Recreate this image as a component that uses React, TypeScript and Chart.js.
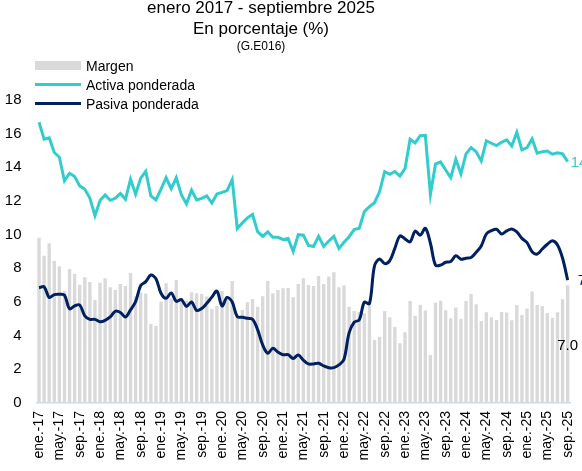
import React, { useEffect, useRef } from 'react';
import { Chart, registerables } from 'chart.js';

Chart.register(...registerables);

const FONT = '"Liberation Sans", Arial, sans-serif';

const TITLE_LINES = ['enero 2017 - septiembre 2025', 'En porcentaje (%)', '(G.E016)'];
const SERIES_NAMES = ['Margen', 'Activa ponderada', 'Pasiva ponderada'];

const MONTHS = ['ene.', 'feb.', 'mar.', 'abr.', 'may.', 'jun.', 'jul.', 'ago.', 'sep.', 'oct.', 'nov.', 'dic.'];
const YEARS = ['17', '18', '19', '20', '21', '22', '23', '24', '25'];
const LAST_YEAR_MONTHS = 9;

const CATEGORIES: string[] = [];
YEARS.forEach((y, yi) =>
  MONTHS.forEach((m, mi) => {
    if (yi < YEARS.length - 1 || mi < LAST_YEAR_MONTHS) CATEGORIES.push(`${m}-${y}`);
  })
);

const TICK_EVERY = 4;
const Y_MIN = 0;
const Y_MAX = 18;
const Y_STEP = 2;

const MARGEN = [
  9.82, 8.75, 9.49, 8.44, 8.12, 6.65, 7.96, 7.66, 7.03, 7.47,
  7.19, 6.12, 7.15, 7.41, 6.87, 6.71, 7.07, 6.95, 7.72, 6.32,
  6.56, 6.5, 4.69, 4.58, 6.02, 7.12, 6.2, 7.31, 6.24, 6.08,
  6.58, 6.52, 6.48, 6.32, 5.59, 5.76, 6.65, 6.22, 7.25, 5.24,
  5.53, 5.98, 6.18, 5.72, 6.34, 7.25, 6.52, 6.71, 6.81, 6.83,
  6.28, 7.07, 7.41, 7.01, 6.95, 7.55, 7.07, 7.51, 7.76, 6.87,
  6.99, 5.72, 5.46, 5.42, 5.33, 5.76, 3.74, 3.94, 5.46, 5.09,
  4.52, 3.55, 4.2, 6.06, 5.19, 5.84, 5.5, 2.85, 5.95, 6.08,
  5.51, 5.03, 5.68, 4.99, 6.06, 6.48, 5.86, 4.87, 5.39, 5.09,
  4.93, 5.41, 5.37, 4.91, 5.82, 5.23, 5.61, 6.63, 5.82, 5.76,
  5.33, 5.05, 5.39, 6.16, 7.0,
];

const ACTIVA = [
  16.68, 15.67, 15.75, 14.88, 14.6, 13.2, 13.65, 13.45, 12.9, 12.7,
  12.18, 11.13, 12.03, 12.36, 12.04, 12.16, 12.45, 12.1, 13.29, 12.4,
  13.36, 13.76, 12.3, 12.06, 12.7, 13.39, 12.73, 13.38, 12.38, 11.83,
  12.64, 12.06, 12.16, 12.3, 11.88, 12.42, 12.51, 12.62, 13.27, 10.37,
  10.7, 11.0, 11.2, 10.18, 9.9, 10.17, 9.84, 9.84, 9.72, 9.78,
  9.0, 10.0, 9.97, 9.36, 9.3, 9.9, 9.3, 9.62, 9.9, 9.18,
  9.55, 9.88, 10.3, 10.38, 11.37, 11.66, 11.9, 12.56, 13.74, 13.58,
  13.75, 13.49, 13.92, 15.67, 15.45, 15.88, 15.9, 12.4, 14.19, 14.32,
  13.84, 13.39, 14.48, 13.61, 14.8, 15.17, 14.93, 14.38, 15.57, 15.43,
  15.29, 15.49, 15.63, 15.27, 16.08, 15.03, 15.17, 15.69, 14.84, 14.93,
  14.97, 14.78, 14.87, 14.8, 14.34,
];

const PASIVA = [
  6.85, 6.9, 6.27, 6.44, 6.46, 6.41, 5.6, 5.77, 5.82, 5.18,
  4.97, 4.97, 4.83, 4.91, 5.11, 5.45, 5.38, 5.11, 5.53, 6.02,
  6.98, 7.21, 7.6, 7.38, 6.52, 6.22, 6.54, 6.04, 6.14, 5.74,
  6.0, 5.5, 5.61, 5.92, 6.29, 6.64, 5.77, 6.27, 6.0, 5.13,
  5.09, 5.03, 4.97, 4.36, 3.45, 2.95, 3.25, 3.02, 2.87, 2.87,
  2.65, 2.85, 2.55, 2.32, 2.32, 2.36, 2.2, 2.1, 2.1, 2.26,
  2.6, 4.17, 4.8, 4.94, 5.99, 5.9, 8.15, 8.55, 8.28, 8.46,
  9.19, 9.92, 9.75, 9.57, 10.21, 9.97, 10.38, 9.49, 8.19, 8.19,
  8.36, 8.4, 8.75, 8.54, 8.6, 8.64, 8.95, 9.33, 10.04, 10.24,
  10.32, 10.04, 10.22, 10.34, 10.16, 9.78, 9.53, 8.99, 8.85, 9.15,
  9.43, 9.64, 9.39, 8.6, 7.3,
];

const COLOR_BAR = '#d9d9d9';
const COLOR_ACTIVA = '#33cccc';
const COLOR_PASIVA = '#002060';
const COLOR_AXIS = '#c5dcf0';

const overlayPlugin = {
  id: 'overlay',
  afterDraw(chart: any) {
    const ctx = chart.ctx as CanvasRenderingContext2D;
    ctx.save();
    // Titles
    ctx.fillStyle = '#000';
    ctx.textAlign = 'center';
    ctx.textBaseline = 'alphabetic';
    ctx.font = `17px ${FONT}`;
    ctx.fillText(TITLE_LINES[0], 261, 12.5);
    ctx.fillText(TITLE_LINES[1], 261, 33.5);
    ctx.font = `12px ${FONT}`;
    ctx.fillText(TITLE_LINES[2], 261, 50);

    // Legend
    ctx.textAlign = 'left';
    ctx.font = `14px ${FONT}`;
    ctx.fillStyle = COLOR_BAR;
    ctx.fillRect(35, 61, 46, 9);
    ctx.lineWidth = 3;
    ctx.strokeStyle = COLOR_ACTIVA;
    ctx.beginPath();
    ctx.moveTo(35, 84.5);
    ctx.lineTo(81, 84.5);
    ctx.stroke();
    ctx.strokeStyle = COLOR_PASIVA;
    ctx.beginPath();
    ctx.moveTo(35, 103.5);
    ctx.lineTo(81, 103.5);
    ctx.stroke();
    ctx.fillStyle = '#000';
    ctx.fillText(SERIES_NAMES[0], 86, 70.5);
    ctx.fillText(SERIES_NAMES[1], 86, 89.5);
    ctx.fillText(SERIES_NAMES[2], 86, 108.5);

    // End labels
    const n = CATEGORIES.length - 1;
    const xs = chart.scales.x;
    const ys = chart.scales.y;
    const xLast = xs.getPixelForValue(n);
    ctx.font = `15px ${FONT}`;
    ctx.textBaseline = 'middle';
    ctx.fillStyle = COLOR_ACTIVA;
    ctx.fillText(ACTIVA[n].toFixed(1), xLast + 3, ys.getPixelForValue(ACTIVA[n]) + 1);
    ctx.fillStyle = COLOR_PASIVA;
    ctx.fillText(PASIVA[n].toFixed(1), xLast + 10, ys.getPixelForValue(PASIVA[n]) + 1);
    ctx.fillStyle = '#000';
    ctx.textAlign = 'center';
    ctx.fillText(MARGEN[n].toFixed(1), xLast, ys.getPixelForValue(MARGEN[n] / 2) + 2);
    ctx.restore();
  },
};

export default function App() {
  const canvasRef = useRef<HTMLCanvasElement | null>(null);

  useEffect(() => {
    if (!canvasRef.current) return;
    const chart = new Chart(canvasRef.current, {
      type: 'bar',
      data: {
        labels: CATEGORIES,
        datasets: [
          {
            type: 'line',
            label: SERIES_NAMES[2],
            data: PASIVA,
            borderColor: COLOR_PASIVA,
            borderWidth: 3,
            pointRadius: 0,
            tension: 0.35,
            fill: false,
            order: 0,
          } as any,
          {
            type: 'line',
            label: SERIES_NAMES[1],
            data: ACTIVA,
            borderColor: COLOR_ACTIVA,
            borderWidth: 3,
            pointRadius: 0,
            tension: 0,
            fill: false,
            order: 1,
          } as any,
          {
            type: 'bar',
            label: SERIES_NAMES[0],
            data: MARGEN,
            backgroundColor: COLOR_BAR,
            borderWidth: 0,
            barPercentage: 0.66,
            categoryPercentage: 1,
            order: 2,
          } as any,
        ],
      },
      options: {
        responsive: false,
        animation: false,
        events: [],
        layout: { padding: { left: 0, top: 100, right: 11.8, bottom: 0 } },
        plugins: {
          legend: { display: false },
          title: { display: false },
          tooltip: { enabled: false },
        },
        scales: {
          x: {
            grid: { display: false, drawTicks: false },
            border: { display: true, color: COLOR_AXIS, width: 1.5 },
            afterFit: (scale: any) => {
              scale.height = 68;
              scale.paddingLeft = 0;
              scale.paddingRight = 0;
            },
            ticks: {
              autoSkip: false,
              minRotation: 90,
              maxRotation: 90,
              padding: 8,
              color: '#000',
              font: { family: FONT, size: 14 },
              callback: (_v: any, i: number) => (i % TICK_EVERY === 0 ? CATEGORIES[i] : ''),
            },
          },
          y: {
            min: Y_MIN,
            max: Y_MAX,
            grid: { display: false, drawTicks: false },
            border: { display: false },
            afterFit: (scale: any) => {
              scale.width = 36.5;
            },
            ticks: {
              stepSize: Y_STEP,
              padding: 15,
              color: '#000',
              font: { family: FONT, size: 15 },
            },
          },
        },
      },
      plugins: [overlayPlugin],
    });
    return () => chart.destroy();
  }, []);

  return (
    <div style={{ position: 'absolute', left: 0, top: 0, width: 582, height: 471, background: '#fff' }}>
      <canvas ref={canvasRef} width={582} height={471} style={{ display: 'block' }} />
    </div>
  );
}
